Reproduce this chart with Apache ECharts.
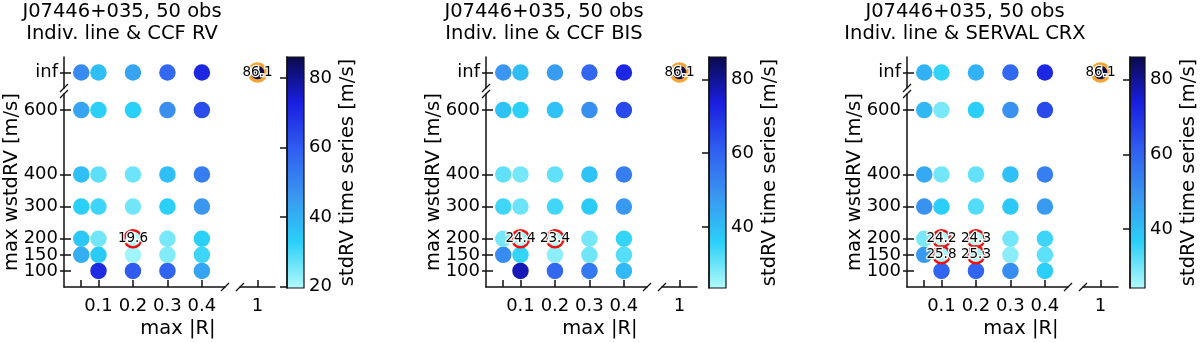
<!DOCTYPE html>
<html>
<head>
<meta charset="utf-8">
<script src="https://cdn.jsdelivr.net/npm/echarts@6/dist/echarts.min.js"></script>
<style>
  html, body { margin: 0; padding: 0; background: #fff; }
  #chart-container { width: 1200px; height: 343px; }
</style>
</head>
<body>
<div id="chart-container"></div>
<script>
// ---- data ----
const xTicks = [0.05, 0.1, 0.2, 0.3, 0.4];
const xLabels = [0.1, 0.2, 0.3, 0.4];
const yTicks = [100, 150, 200, 300, 400, 600];
// labels split over two axes so that the tightly packed ones are not auto-hidden
const yLabelsA = [100, 200, 300, 400, 600];
const yLabelsB = [150];

const starName = "J07446+035, 50 obs";
const methods = ["Indiv. line & CCF RV", "Indiv. line & CCF BIS", "Indiv. line & SERVAL CRX"];

// stdRV [m/s], rows: max wstdRV = 100, 150, 200, 300, 400, 600, inf ; columns: xTicks
const stdCcfRv = [
  [null, 70, 60, 58, 43],
  [41, 34, 21.5, 24.5, 31],
  [35, 26, 19.6, 25.5, 33],
  [33, 31, 26, 33, 46],
  [37, 28, 26.5, 37, 52],
  [43, 33, 33, 48, 63],
  [49, 37, 43, 57, 71],
];
const stdCcfBis = [
  [null, 77, 59, 55, 41],
  [51, 35, 27, 29.5, 32],
  [29, 24.4, 23.4, 29, 35],
  [34, 30, 34, 37, 48],
  [31, 29, 31, 39, 54],
  [39, 36, 39, 50, 65],
  [48.5, 40, 47, 59, 72],
];
const stdServalCrx = [
  [null, 60, 60, 51, 37],
  [48, 25.8, 25.3, 28, 32],
  [29.5, 24.2, 24.3, 30, 35],
  [50, 37, 33, 38, 48],
  [45, 30, 31.5, 40, 54],
  [42, 29.5, 37, 50, 65],
  [43, 36, 43, 59, 72],
];

// best cases (red rings), as [max |R|, max wstdRV]
const markedCcfRv = [[0.2, 200]];
const markedCcfBis = [[0.1, 200], [0.2, 200]];
const markedServalCrx = [[0.1, 200], [0.2, 200], [0.1, 150], [0.2, 150]];

// no cut at all (orange ring)
const noCutR = 1;
const noCutStd = 86.1;

const cbTicks = [[20, 40, 60, 80], [40, 60, 80], [40, 60, 80]];
const cmap = ["#b4fafa", "#2ad0f8", "#3a96f0", "#305ef0", "#1a1ee0", "#0a0a4a"];

const panels = [
  { values: stdCcfRv, marked: markedCcfRv, title: methods[0], ticks: cbTicks[0] },
  { values: stdCcfBis, marked: markedCcfBis, title: methods[1], ticks: cbTicks[1] },
  { values: stdServalCrx, marked: markedServalCrx, title: methods[2], ticks: cbTicks[2] },
];

// ---- layout ----
const FONT = "DejaVu Sans";
const INK = "#111";
const panelX = [64, 486, 907];
const TOP_Y = 57, TOP_H = 31;
const BOT_Y = 94, BOT_H = 193;
const LEFT_W = 161, RIGHT_DX = 176, RIGHT_W = 35;
const CB_DX = 223, CB_W = 17, CB_Y = 57, CB_H = 231;

const option = {
  animation: false,
  textStyle: { fontFamily: FONT },
  grid: [], xAxis: [], yAxis: [], series: [], visualMap: [], graphic: [],
};

const lineStyle = { color: INK, width: 1.5 };
const tickFont = { fontSize: 18, color: "#000", fontFamily: FONT, hideOverlap: false, showMinLabel: true, showMaxLabel: true };

function addGrid(left, top, width, height) {
  option.grid.push({ left, top, width, height, containLabel: false });
  return option.grid.length - 1;
}
function addX(ax) { option.xAxis.push(ax); return option.xAxis.length - 1; }
function addY(ax) { option.yAxis.push(ax); return option.yAxis.length - 1; }
const hidden = { show: false };

function ringSeries(xi, yi, data, color, size, bw) {
  return {
    type: "scatter", xAxisIndex: xi, yAxisIndex: yi, data,
    symbolSize: size, z: 4,
    itemStyle: { color: "rgba(0,0,0,0)", borderColor: color, borderWidth: bw, opacity: 1 },
    label: {
      show: true, position: "inside", formatter: (p) => p.value[2].toFixed(1),
      fontSize: 13.5, color: "#000", textBorderColor: "#fff", textBorderWidth: 2.5,
      fontFamily: FONT,
    },
  };
}

panels.forEach((p, i) => {
  const ox = panelX[i];
  const vmax = noCutStd;
  const vmin = Math.min(...p.values.flat().filter((v) => v != null));

  // bottom-left: numeric cuts
  const gBL = addGrid(ox, BOT_Y, LEFT_W, BOT_H);
  const xBL = addX({
    gridIndex: gBL, type: "value", min: 0, max: 0.467,
    axisLine: { lineStyle }, splitLine: hidden,
    axisTick: { inside: true, length: 7, customValues: xTicks, lineStyle },
    axisLabel: { ...tickFont, customValues: xLabels, margin: 10 },
  });
  const yBL = addY({
    gridIndex: gBL, type: "value", position: "left", min: 50, max: 650, z: 3,
    axisLine: { show: true, lineStyle }, splitLine: hidden,
    axisTick: { show: true, inside: true, length: 7, customValues: yTicks, lineStyle },
    axisLabel: { ...tickFont, customValues: yLabelsA, margin: 6 },
  });
  addY({
    gridIndex: gBL, type: "value", position: "left", min: 50, max: 650,
    axisLine: hidden, splitLine: hidden,
    axisTick: { show: true, inside: false, length: 4, customValues: yTicks, lineStyle },
    axisLabel: { ...tickFont, customValues: yLabelsB, margin: 6 },
  });

  // top-left: "inf" row
  const gTL = addGrid(ox, TOP_Y, LEFT_W, TOP_H);
  const xTL = addX({ gridIndex: gTL, type: "value", min: 0, max: 0.467, show: false });
  const yTL = addY({
    gridIndex: gTL, type: "category", position: "left", data: ["inf"], z: 3,
    axisLine: { show: true, lineStyle }, splitLine: hidden,
    axisTick: { show: true, inside: true, length: 7, alignWithLabel: true, lineStyle },
    axisLabel: { ...tickFont, margin: 6 },
  });
  addY({
    gridIndex: gTL, type: "category", position: "left", data: ["inf"],
    axisLine: hidden, splitLine: hidden, axisLabel: hidden,
    axisTick: { show: true, inside: false, length: 4, alignWithLabel: true, lineStyle },
  });

  // top-right: no cut
  const gTR = addGrid(ox + RIGHT_DX, TOP_Y, RIGHT_W, TOP_H);
  const xTR = addX({ gridIndex: gTR, type: "value", min: 0.95, max: 1.05, show: false });
  const yTR = addY({ gridIndex: gTR, type: "category", data: ["inf"], show: false });

  // bottom-right: axis with tick at 1
  const gBR = addGrid(ox + RIGHT_DX, BOT_Y, RIGHT_W, BOT_H);
  addX({
    gridIndex: gBR, type: "value", min: 0.95, max: 1.05,
    axisLine: { lineStyle }, splitLine: hidden,
    axisTick: { inside: true, length: 7, customValues: [noCutR], lineStyle },
    axisLabel: { ...tickFont, customValues: [noCutR], margin: 10 },
  });
  addY({ gridIndex: gBR, type: "value", min: 50, max: 650, show: false });

  // colorbar
  const gCB = addGrid(ox + CB_DX, CB_Y, CB_W, CB_H);
  const xCB = addX({ gridIndex: gCB, type: "value", min: 0, max: 1, show: false });
  const yCB = addY({
    gridIndex: gCB, type: "value", min: vmin, max: vmax, position: "right", z: 5,
    axisLine: { show: true, lineStyle }, splitLine: hidden,
    axisTick: { show: true, inside: true, length: 7, customValues: p.ticks, lineStyle },
    axisLabel: { ...tickFont, customValues: p.ticks, margin: 5 },
    name: "stdRV time series [m/s]", nameLocation: "middle", nameGap: 34,
    nameTextStyle: { fontSize: 19.5, color: "#000", fontFamily: FONT },
  });

  // points
  const botData = [], topData = [];
  p.values.forEach((row, r) => {
    row.forEach((v, c) => {
      if (v == null) return;
      if (r < yTicks.length) botData.push([xTicks[c], yTicks[r], v]);
      else topData.push([xTicks[c], "inf", v]);
    });
  });
  const sBase = option.series.length;
  const dot = { type: "scatter", symbolSize: 16.5, itemStyle: { opacity: 1 } };
  option.series.push({ ...dot, xAxisIndex: xBL, yAxisIndex: yBL, data: botData });
  option.series.push({ ...dot, xAxisIndex: xTL, yAxisIndex: yTL, data: topData });
  option.series.push({ ...dot, xAxisIndex: xTR, yAxisIndex: yTR, data: [[noCutR, "inf", noCutStd]] });

  option.visualMap.push({
    type: "continuous", show: false, min: vmin, max: vmax, dimension: 2,
    seriesIndex: [sBase, sBase + 1, sBase + 2], inRange: { color: cmap },
  });

  // best cases and no-cut ring
  const markedData = p.marked.map(([mx, my]) => {
    const v = p.values[yTicks.indexOf(my)][xTicks.indexOf(mx)];
    return [mx, my, v];
  });
  option.series.push(ringSeries(xBL, yBL, markedData, "#f01010", 17, 2.5));
  option.series.push(ringSeries(xTR, yTR, [[noCutR, "inf", noCutStd]], "#f5a432", 17, 3.5));

  // colorbar gradient through the colorbar axis
  option.series.push({
    type: "custom", xAxisIndex: xCB, yAxisIndex: yCB, silent: true, z: 1,
    data: [[0, vmin, 1, vmax]],
    renderItem: (params, api) => {
      const a = api.coord([api.value(0), api.value(3)]);
      const b = api.coord([api.value(2), api.value(1)]);
      return {
        type: "rect",
        shape: { x: a[0], y: a[1], width: b[0] - a[0], height: b[1] - a[1] },
        style: {
          fill: new echarts.graphic.LinearGradient(0, 1, 0, 0,
            cmap.map((c, k) => ({ offset: k / (cmap.length - 1), color: c }))),
          stroke: INK, lineWidth: 1.2,
        },
      };
    },
  });

  // titles and axis names
  option.graphic.push({
    type: "text", x: ox + 58, y: 1,
    style: {
      text: starName + "\n" + p.title, align: "center", verticalAlign: "top",
      font: "19.5px 'DejaVu Sans'", lineHeight: 22, fill: "#000",
    },
  });
  option.graphic.push({
    type: "text", x: ox - 52, y: 182, rotation: Math.PI / 2,
    style: { text: "max wstdRV [m/s]", align: "center", verticalAlign: "middle", font: "19.5px 'DejaVu Sans'", fill: "#000" },
  });
  option.graphic.push({
    type: "text", x: ox + 114, y: 329,
    style: { text: "max |R|", align: "center", verticalAlign: "middle", font: "19.5px 'DejaVu Sans'", fill: "#000" },
  });

  // axis break marks
  const slash = (cx, cy) => ({
    type: "line", shape: { x1: cx - 4, y1: cy + 4, x2: cx + 4, y2: cy - 4 },
    style: { stroke: INK, lineWidth: 1.3 },
  });
  const yAxisBottom = BOT_Y + BOT_H;
  option.graphic.push(slash(ox + LEFT_W, yAxisBottom));
  option.graphic.push(slash(ox + RIGHT_DX, yAxisBottom));
  option.graphic.push(slash(ox, TOP_Y + TOP_H));
  option.graphic.push(slash(ox, BOT_Y));
});

const chart = echarts.init(document.getElementById("chart-container"), null, { renderer: "canvas" });
chart.setOption(option);
</script>
</body>
</html>
